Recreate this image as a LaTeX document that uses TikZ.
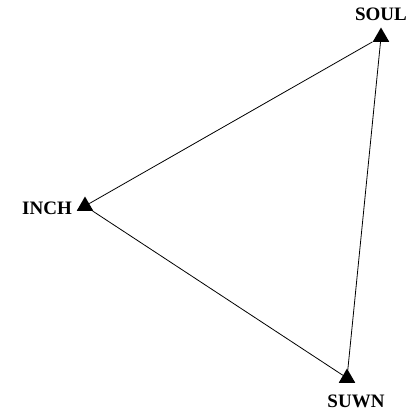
\documentclass[tikz,border=0pt]{standalone}
\usepackage{fontspec}
\setmainfont{Liberation Serif}
\usetikzlibrary{shapes.geometric}
\begin{document}
\begin{tikzpicture}[x=1pt,y=-1pt,
  station/.style={regular polygon,regular polygon sides=3,fill=black,draw=none,inner sep=0pt,minimum size=19pt},
  lbl/.style={font=\bfseries\fontsize{19}{21}\selectfont,inner sep=0pt},
  link/.style={draw=black,line width=0.8pt}]
\useasboundingbox (0,0) rectangle (416,413);
\node[station] (soul) at (381,37) {};
\node[station] (inch) at (85,206) {};
\node[station] (suwn) at (347,378) {};
\node[lbl] (soulL) at (381,14) {SOUL};
\node[lbl] (inchL) at (47,208) {INCH};
\node[lbl] (suwnL) at (356,401) {SUWN};
\draw[link] (inch) -- (soul);
\draw[link] (soul) -- (suwn);
\draw[link] (inch) -- (suwn);
\end{tikzpicture}
\end{document}
